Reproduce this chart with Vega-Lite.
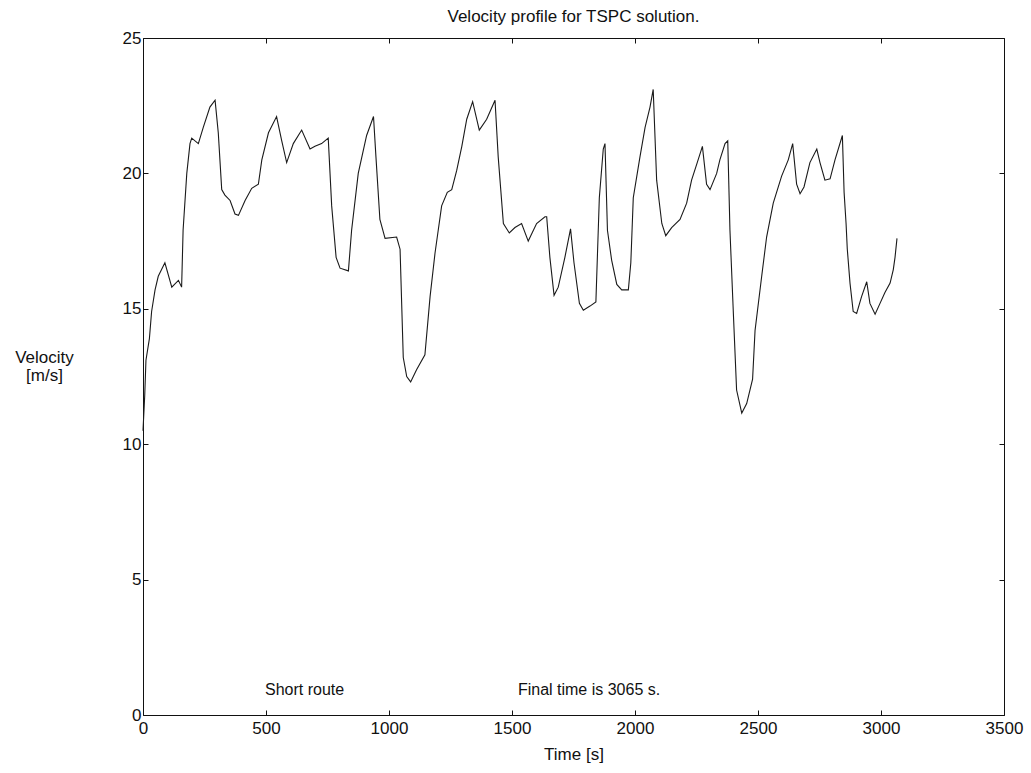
{
  "$schema": "https://vega.github.io/schema/vega-lite/v6.json",
  "width": 861,
  "height": 677,
  "autosize": {"type": "none"},
  "padding": {"left": 143, "top": 38, "right": 27, "bottom": 58},
  "background": "white",
  "config": {
    "font": "Liberation Sans",
    "view": {"stroke": "#111", "strokeWidth": 1},
    "axis": {"grid": false, "domain": false, "tickColor": "#111", "labelColor": "#111", "titleColor": "#111", "labelFont": "Liberation Sans", "titleFont": "Liberation Sans", "labelFontSize": 17, "titleFontSize": 17, "titleFontWeight": "normal", "tickSize": -5, "labelPadding": 7}
  },
  "title": {"text": "Velocity profile for TSPC solution.", "fontSize": 17, "fontWeight": "normal", "font": "Liberation Sans", "color": "#111", "anchor": "middle", "offset": 3},
  "datasets": {
    "profile": [
      {"t":0,"v":10.5},{"t":7,"v":11.8},{"t":12,"v":13.1},{"t":26,"v":13.9},{"t":35,"v":14.9},{"t":49,"v":15.7},{"t":62,"v":16.2},{"t":89,"v":16.7},{"t":117,"v":15.8},{"t":144,"v":16.05},{"t":157,"v":15.8},{"t":163,"v":17.9},{"t":178,"v":20.0},{"t":191,"v":21.1},{"t":198,"v":21.3},{"t":225,"v":21.1},{"t":245,"v":21.7},{"t":272,"v":22.45},{"t":293,"v":22.7},{"t":306,"v":21.5},{"t":320,"v":19.4},{"t":333,"v":19.2},{"t":354,"v":19.0},{"t":374,"v":18.5},{"t":388,"v":18.45},{"t":415,"v":19.0},{"t":442,"v":19.45},{"t":469,"v":19.6},{"t":483,"v":20.5},{"t":510,"v":21.5},{"t":543,"v":22.1},{"t":564,"v":21.2},{"t":584,"v":20.4},{"t":611,"v":21.1},{"t":645,"v":21.6},{"t":679,"v":20.9},{"t":699,"v":21.0},{"t":726,"v":21.1},{"t":753,"v":21.3},{"t":767,"v":18.8},{"t":785,"v":16.9},{"t":801,"v":16.5},{"t":835,"v":16.4},{"t":848,"v":17.9},{"t":875,"v":20.0},{"t":909,"v":21.4},{"t":937,"v":22.1},{"t":947,"v":20.6},{"t":963,"v":18.3},{"t":984,"v":17.6},{"t":1031,"v":17.65},{"t":1045,"v":17.2},{"t":1058,"v":13.2},{"t":1072,"v":12.5},{"t":1088,"v":12.3},{"t":1112,"v":12.75},{"t":1146,"v":13.3},{"t":1167,"v":15.45},{"t":1187,"v":17.05},{"t":1214,"v":18.8},{"t":1237,"v":19.3},{"t":1255,"v":19.4},{"t":1275,"v":20.1},{"t":1296,"v":21.0},{"t":1316,"v":22.0},{"t":1340,"v":22.65},{"t":1367,"v":21.6},{"t":1397,"v":22.0},{"t":1431,"v":22.7},{"t":1444,"v":20.6},{"t":1465,"v":18.15},{"t":1489,"v":17.8},{"t":1512,"v":18.0},{"t":1539,"v":18.15},{"t":1566,"v":17.5},{"t":1600,"v":18.15},{"t":1634,"v":18.4},{"t":1641,"v":18.4},{"t":1654,"v":16.9},{"t":1671,"v":15.5},{"t":1688,"v":15.8},{"t":1715,"v":16.9},{"t":1738,"v":17.95},{"t":1752,"v":16.7},{"t":1774,"v":15.2},{"t":1790,"v":14.95},{"t":1817,"v":15.1},{"t":1841,"v":15.25},{"t":1855,"v":19.1},{"t":1871,"v":20.9},{"t":1878,"v":21.1},{"t":1888,"v":17.9},{"t":1905,"v":16.8},{"t":1926,"v":15.9},{"t":1946,"v":15.7},{"t":1973,"v":15.7},{"t":1983,"v":16.7},{"t":1993,"v":19.1},{"t":2020,"v":20.6},{"t":2041,"v":21.7},{"t":2061,"v":22.45},{"t":2074,"v":23.1},{"t":2088,"v":19.75},{"t":2109,"v":18.15},{"t":2125,"v":17.7},{"t":2149,"v":18.0},{"t":2183,"v":18.3},{"t":2210,"v":18.9},{"t":2230,"v":19.75},{"t":2253,"v":20.4},{"t":2274,"v":21.0},{"t":2291,"v":19.6},{"t":2305,"v":19.4},{"t":2332,"v":20.0},{"t":2345,"v":20.5},{"t":2366,"v":21.1},{"t":2377,"v":21.2},{"t":2386,"v":17.9},{"t":2400,"v":14.8},{"t":2413,"v":12.0},{"t":2434,"v":11.15},{"t":2454,"v":11.5},{"t":2478,"v":12.4},{"t":2488,"v":14.2},{"t":2515,"v":16.2},{"t":2535,"v":17.65},{"t":2562,"v":18.9},{"t":2596,"v":19.9},{"t":2623,"v":20.5},{"t":2641,"v":21.1},{"t":2657,"v":19.6},{"t":2671,"v":19.25},{"t":2687,"v":19.5},{"t":2711,"v":20.4},{"t":2739,"v":20.9},{"t":2752,"v":20.4},{"t":2772,"v":19.75},{"t":2793,"v":19.8},{"t":2813,"v":20.5},{"t":2843,"v":21.4},{"t":2850,"v":19.3},{"t":2858,"v":18.15},{"t":2863,"v":17.2},{"t":2874,"v":15.95},{"t":2887,"v":14.9},{"t":2901,"v":14.83},{"t":2921,"v":15.45},{"t":2942,"v":16.0},{"t":2955,"v":15.2},{"t":2976,"v":14.8},{"t":2996,"v":15.2},{"t":3016,"v":15.6},{"t":3037,"v":15.95},{"t":3050,"v":16.45},{"t":3057,"v":16.9},{"t":3065,"v":17.6}
    ],
    "notes": [
      {"t": 496, "v": 0.92, "label": "Short route"},
      {"t": 1524, "v": 0.92, "label": "Final time is 3065 s."}
    ]
  },
  "layer": [
    {
      "data": {"name": "profile"},
      "mark": {"type": "line", "color": "#1a1a1a", "strokeWidth": 1.1, "interpolate": "linear"},
      "encoding": {
        "x": {"field": "t", "type": "quantitative", "scale": {"domain": [0, 3500], "nice": false, "zero": false},
              "axis": {"orient": "bottom", "values": [0,500,1000,1500,2000,2500,3000,3500], "format": "d", "title": "Time [s]", "labelPadding": 10, "titlePadding": 10, "labelFlush": false}},
        "y": {"field": "v", "type": "quantitative", "scale": {"domain": [0, 25], "nice": false, "zero": false},
              "axis": {"orient": "left", "values": [0,5,10,15,20,25], "title": ["Velocity", "[m/s]"], "titleAngle": 0, "titleAlign": "center", "titleBaseline": "top", "titleX": -99, "titleY": 311, "titleLineHeight": 18, "labelFlush": false}}
      }
    },
    {
      "data": {"name": "profile"},
      "mark": {"type": "line", "opacity": 0},
      "encoding": {
        "x": {"field": "t", "type": "quantitative", "axis": {"orient": "top", "values": [0,500,1000,1500,2000,2500,3000,3500], "labels": false, "title": null}},
        "y": {"field": "v", "type": "quantitative", "axis": {"orient": "right", "values": [0,5,10,15,20,25], "labels": false, "title": null}}
      }
    },
    {
      "data": {"name": "notes"},
      "mark": {"type": "text", "align": "left", "baseline": "middle", "fontSize": 16, "font": "Liberation Sans", "color": "#111"},
      "encoding": {
        "x": {"field": "t", "type": "quantitative", "axis": null},
        "y": {"field": "v", "type": "quantitative", "axis": null},
        "text": {"field": "label", "type": "nominal"}
      }
    }
  ],
  "resolve": {"axis": {"x": "independent", "y": "independent"}}
}
